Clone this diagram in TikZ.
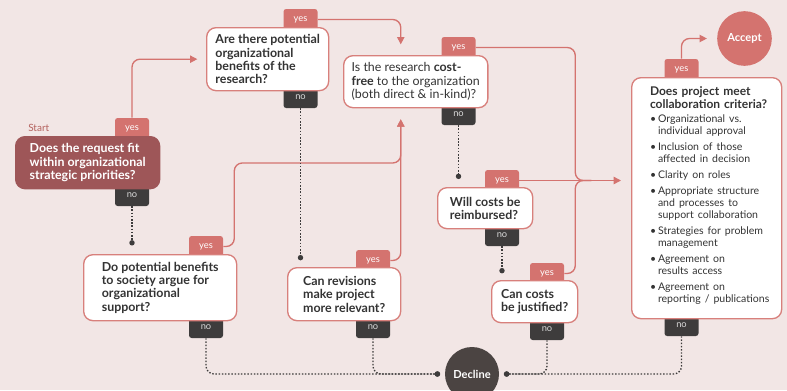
\documentclass[tikz,border=0pt]{standalone}
\usepackage{fontspec}
\setmainfont{Lato}
\usetikzlibrary{positioning, calc, arrows.meta}
\definecolor{paper}{RGB}{242, 230, 229}
\definecolor{salmon}{RGB}{212, 115, 111}
\definecolor{rim}{RGB}{216, 128, 124}
\definecolor{wine}{RGB}{158, 86, 88}
\definecolor{coal}{RGB}{62, 60, 60}
\definecolor{ink}{RGB}{51, 51, 51}
\definecolor{decl}{RGB}{75, 68, 66}

\newcommand{\bul}{\makebox[6pt][l]{\textbullet}}
\newcommand{\ind}{\hspace*{6pt}}

\tikzset{
  question/.style={draw=rim, fill=white, line width=1pt, rounded corners=7pt, align=left,
    anchor=north west, inner xsep=6pt, inner ysep=0pt, text=ink,
    font=\fontsize{9.3}{10}\selectfont\bfseries},
  startq/.style={question, draw=wine, fill=wine, text=white},
  yestab/.style={fill=salmon, rounded corners=2pt, minimum width=25.5pt, minimum height=15.75pt,
    inner sep=0pt, text=white, font=\fontsize{7}{8}\selectfont},
  notab/.style={yestab, fill=coal, text=white!85!black},
  yesline/.style={draw=salmon, line width=1pt, rounded corners=6pt},
  noline/.style={draw=coal, line width=1pt, dash pattern=on 1.1pt off 1.3pt, rounded corners=6pt,
    -{Circle[length=4pt]}},
  verdict/.style={circle, minimum size=41pt, inner sep=0pt, text=white,
    font=\fontsize{8.3}{10}\selectfont\bfseries},
}

\begin{document}
\begin{tikzpicture}[x=0.75pt, y=-0.75pt, >={Triangle[length=5.5pt, width=5.5pt]}]

  \useasboundingbox (0,0) rectangle (787,390);
  \fill[paper] (0,0) rectangle (787,390);

  % tabs first, the boxes cover their inner ends
  \node[yestab] (syes)  at (132,128.5) {yes};
  \node[yestab] (byes)  at (300.5,19.5) {yes};
  \node[yestab] (cyes)  at (458.5,47.5) {yes};
  \node[yestab] (cryes) at (681.5,69.5) {yes};
  \node[yestab] (reyes) at (502,180.5) {yes};
  \node[yestab] (jyes)  at (547,273.5) {yes};
  \node[yestab] (soyes) at (206,246.5) {yes};
  \node[yestab] (ryes)  at (373,260.5) {yes};

  \node[notab] (sno)  at (132,195.5) {no};
  \node[notab] (bno)  at (300.5,97.5) {no};
  \node[notab] (cno)  at (458.5,114.5) {no};
  \node[notab] (crno) at (681.5,325.5) {no};
  \node[notab] (reno) at (502,235.5) {no};
  \node[notab] (jno)  at (547,329.5) {no};
  \node[notab] (sono) at (206,327.5) {no};
  \node[notab] (rno)  at (373,327.5) {no};

  % questions
  \node[text=salmon!85!black, anchor=base west, inner sep=0pt, font=\fontsize{7.5}{9}\selectfont]
    (startlbl) at (28,131) {Start};

  \node[startq, minimum width=108pt, minimum height=39pt] (start) at (15,136)
    {Does the request fit\\within organizational\\strategic priorities?};

  \node[question, minimum width=91.5pt, minimum height=47.25pt] (benefits) at (206,27)
    {Are there potential\\organizational\\benefits of the\\research?};

  \node[question, minimum width=108pt, minimum height=39pt, font=\fontsize{9.3}{10}\selectfont]
    (costfree) at (343,55)
    {Is the research \textbf{cost-}\\\textbf{free} to the organization\\(both direct \& in-kind)?};

  \node[question, minimum width=71.25pt, minimum height=30.75pt] (reimb) at (437,187)
    {Will costs be\\reimbursed?};

  \node[question, minimum width=64.5pt, minimum height=31.5pt] (justif) at (491,280)
    {Can costs\\be justified?};

  \node[question, minimum width=114.75pt, minimum height=49.5pt] (society) at (83,254)
    {Do potential benefits\\to society argue for\\organizational\\support?};

  \node[question, minimum width=84.75pt, minimum height=39.75pt] (revise) at (287,267)
    {Can revisions\\make project\\more relevant?};

  \node[question, text width=93pt, inner xsep=9.75pt, minimum height=180.75pt,
    font=\fontsize{9}{10}\selectfont\bfseries] (criteria) at (631,77)
    {\hyphenpenalty=10000 \hbadness=10000 \hfuzz=20pt \leftskip=4pt
     \mbox{Does project meet}\\\mbox{collaboration criteria?}\par\vspace{1pt}
     {\fontsize{7.9}{9}\selectfont\mdseries
      \bul\mbox{Organizational vs.}\\\ind\mbox{individual approval}\\[3pt]
      \bul\mbox{Inclusion of those}\\\ind\mbox{affected in decision}\\[3pt]
      \bul\mbox{Clarity on roles}\\[3pt]
      \bul\mbox{Appropriate structure}\\\ind\mbox{and processes to}\\\ind\mbox{support collaboration}\\[3pt]
      \bul\mbox{Strategies for problem}\\\ind\mbox{management}\\[3pt]
      \bul\mbox{Agreement on}\\\ind\mbox{results access}\\[3pt]
      \bul\mbox{Agreement on}\\\ind\mbox{reporting / publications}\par}\vspace{4pt}};

  \node[verdict, fill=salmon] (accept) at (744.5,38.5) {Accept};
  \node[verdict, fill=decl, minimum size=40.5pt] (decline) at (472,374) {Decline};

  % yes paths
  \draw[yesline, ->, shorten >=6.5pt] (syes.north) |- (benefits.west);
  \draw[yesline, ->, shorten >=8pt] (byes.east) -| ($(costfree.north)+(-15,0)$);
  \draw[yesline, ->, shorten >=7.5pt] (cryes.north) |- (accept.west);

  \path (reyes.east) ++(56,0) coordinate (merge);
  \draw[yesline] (cyes.east) -| (merge) -- ++(16,0);
  \draw[yesline] (jyes.east) -| (merge) -- ++(16,0);
  \draw[yesline, ->, shorten >=7.5pt] (reyes.east) -- (reyes.east -| criteria.west);

  \coordinate (backup) at ($(costfree.south)+(-15,0)$);
  \draw[yesline, ->, shorten >=8.25pt] (soyes.east) -| ++(11,-83.5) -| (backup);
  \draw[yesline, ->, shorten >=8.25pt] (ryes.east) -| (backup);

  % no paths
  \draw[noline, shorten >=6.4pt] (sno.south) -- (sno.south |- society.north);
  \draw[noline, shorten >=5pt] (bno.south) -- (bno.south |- revise.north);
  \draw[noline, shorten >=6pt] (cno.south) -- (cno.south |- reimb.north);
  \draw[noline, shorten >=5pt] (reno.south) -- (reno.south |- justif.north);

  \draw[noline, shorten >=3.5pt] (sono.south) |- (decline.west);
  \draw[noline, shorten >=3.5pt] (rno.south) |- (decline.west);
  \draw[noline, shorten >=3.5pt] (jno.south) |- (decline.east);
  \draw[noline, shorten >=3.5pt] (crno.south) |- (decline.east);

\end{tikzpicture}
\end{document}
